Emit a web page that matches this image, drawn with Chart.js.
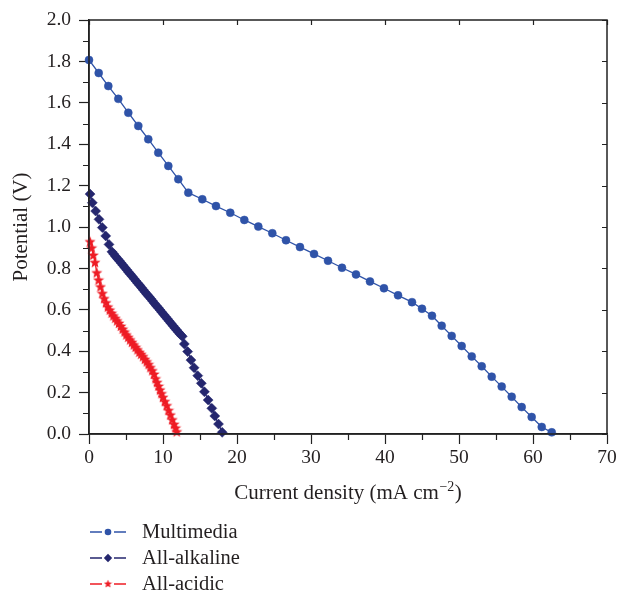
<!DOCTYPE html>
<html>
<head>
<meta charset="utf-8">
<title>Polarization curves</title>
<script src="https://cdn.jsdelivr.net/npm/chart.js"></script>
<style>
  html, body { margin: 0; padding: 0; background: #fff; }
  #wrap { width: 620px; height: 592px; position: relative; }
</style>
</head>
<body>
<div id="wrap"><canvas id="graph"></canvas></div>
<script>
// Multimedia cell
const currentMulti = [0.0, 1.31, 2.61, 3.96, 5.31, 6.66, 8.01, 9.36, 10.72, 12.07, 13.42, 15.31, 17.16, 19.09, 20.99, 22.88, 24.77, 26.62, 28.51, 30.41, 32.3, 34.19, 36.08, 37.97, 39.86, 41.76, 43.65, 45.0, 46.35, 47.66, 49.01, 50.36, 51.72, 53.07, 54.42, 55.77, 57.12, 58.47, 59.82, 61.18, 62.53];
const potentialMulti = [1.807, 1.744, 1.681, 1.619, 1.552, 1.488, 1.424, 1.359, 1.295, 1.231, 1.166, 1.134, 1.101, 1.069, 1.034, 1.002, 0.970, 0.936, 0.903, 0.870, 0.837, 0.803, 0.771, 0.737, 0.704, 0.670, 0.637, 0.605, 0.571, 0.523, 0.474, 0.425, 0.375, 0.327, 0.277, 0.229, 0.180, 0.130, 0.082, 0.034, 0.008];

// All-alkaline cell
const currentAlk = [0.14, 0.45, 0.9, 1.35, 1.8, 2.26, 2.7,
  3.1, 3.35, 3.6, 3.85, 4.1, 4.35, 4.6, 4.85, 5.1, 5.35, 5.6, 5.85, 6.1, 6.35, 6.6, 6.85, 7.1, 7.35, 7.6, 7.85,
  8.1, 8.35, 8.6, 8.85, 9.1, 9.35, 9.6, 9.85, 10.1, 10.35, 10.6, 10.85, 11.1, 11.35, 11.6, 11.85, 12.1, 12.35, 12.6,
  12.88, 13.33, 13.78, 14.2, 14.7, 15.18, 15.6, 16.1, 16.6, 17.0, 17.5, 18.0];
const potentialAlk = [1.159, 1.117, 1.077, 1.037, 0.997, 0.957, 0.916,
  0.880, 0.869, 0.858, 0.847, 0.837, 0.826, 0.815, 0.804, 0.793, 0.782, 0.772, 0.761, 0.750, 0.739, 0.728, 0.718, 0.707, 0.696, 0.685, 0.674,
  0.664, 0.653, 0.642, 0.631, 0.620, 0.610, 0.599, 0.588, 0.577, 0.566, 0.556, 0.545, 0.534, 0.523, 0.512, 0.502, 0.491, 0.481, 0.472,
  0.435, 0.398, 0.357, 0.320, 0.282, 0.245, 0.204, 0.164, 0.124, 0.087, 0.048, 0.008];

// All-acidic cell
const currentAcid = [0.14, 0.36, 0.58, 0.81, 1.05, 1.3, 1.55, 1.8, 2.05, 2.3, 2.55, 2.8, 3.05, 3.3, 3.55, 3.8, 4.05, 4.3, 4.55, 4.8,
  5.05, 5.3, 5.55, 5.8, 6.05, 6.3, 6.55, 6.8, 7.05, 7.3, 7.55, 7.8, 8.05, 8.3, 8.55, 8.8,
  9.0, 9.2, 9.4, 9.6, 9.8, 10.0, 10.25, 10.5, 10.75, 11.0, 11.25, 11.5, 11.7, 11.85];
const potentialAcid = [0.930, 0.900, 0.865, 0.830, 0.780, 0.745, 0.712, 0.680, 0.655, 0.635, 0.615, 0.600, 0.585, 0.572, 0.560, 0.548, 0.536, 0.522, 0.508, 0.494,
  0.480, 0.468, 0.456, 0.444, 0.432, 0.420, 0.408, 0.396, 0.386, 0.375, 0.362, 0.350, 0.337, 0.322, 0.307, 0.290,
  0.268, 0.250, 0.232, 0.214, 0.196, 0.178, 0.158, 0.138, 0.115, 0.093, 0.070, 0.048, 0.030, 0.012];

const seriesNames = ['Multimedia', 'All-alkaline', 'All-acidic'];
const xTicks = [0, 10, 20, 30, 40, 50, 60, 70];
const yTicks = [0.0, 0.2, 0.4, 0.6, 0.8, 1.0, 1.2, 1.4, 1.6, 1.8, 2.0];

const BLUE = '#2f53a8';
const NAVY = '#24266e';
const RED = '#ee1c25';
const INK = '#231f20';
const SERIF = '"Liberation Serif", "DejaVu Serif", serif';

function pairs(xs, ys) {
  return xs.map((x, i) => ({ x: x, y: ys[i] }));
}

// filled five-point star used as marker
function makeStar(size, color) {
  const c = document.createElement('canvas');
  c.width = size; c.height = size;
  const g = c.getContext('2d');
  const cx = size / 2, cy = size / 2 + 0.5;
  const ro = size / 2 - 0.2, ri = ro * 0.45;
  g.beginPath();
  for (let k = 0; k < 10; k++) {
    const r = k % 2 === 0 ? ro : ri;
    const a = -Math.PI / 2 + k * Math.PI / 5;
    const px = cx + r * Math.cos(a), py = cy + r * Math.sin(a);
    if (k === 0) g.moveTo(px, py); else g.lineTo(px, py);
  }
  g.closePath();
  g.fillStyle = color;
  g.fill();
  return c;
}
const starMark = makeStar(12, RED);
const starSmall = makeStar(9, RED);

// frame, minor ticks, x title and legend
const extras = {
  id: 'extras',
  afterDraw(chart) {
    const ctx = chart.ctx;
    const a = chart.chartArea;
    const xs = chart.scales.x, ys = chart.scales.y;
    ctx.save();
    ctx.strokeStyle = '#222';
    ctx.lineWidth = 1.5;
    ctx.strokeRect(a.left, a.top, a.right - a.left, a.bottom - a.top);

    ctx.lineWidth = 1.2;
    ctx.beginPath();
    // minor ticks outside
    for (let v = 5; v < 70; v += 10) {
      const px = Math.round(xs.getPixelForValue(v)) + 0.5;
      ctx.moveTo(px, a.bottom); ctx.lineTo(px, a.bottom + 6);
    }
    for (let v = 0.1; v < 2; v += 0.2) {
      const py = Math.round(ys.getPixelForValue(v)) + 0.5;
      ctx.moveTo(a.left, py); ctx.lineTo(a.left - 6, py);
    }
    // major ticks inside on right and top
    yTicks.forEach(v => {
      const py = Math.round(ys.getPixelForValue(v)) + 0.5;
      ctx.moveTo(a.right, py); ctx.lineTo(a.right - 5, py);
    });
    xTicks.forEach(v => {
      const px = Math.round(xs.getPixelForValue(v)) + 0.5;
      ctx.moveTo(px, a.top); ctx.lineTo(px, a.top + 5);
    });
    ctx.stroke();

    // x axis title with superscript
    ctx.fillStyle = INK;
    ctx.textBaseline = 'alphabetic';
    const main = 'Current density (mA cm';
    const sup = '\u22122';
    ctx.font = '21px ' + SERIF;
    const w1 = ctx.measureText(main).width;
    const w3 = ctx.measureText(')').width;
    ctx.font = '14px ' + SERIF;
    const w2 = ctx.measureText(sup).width;
    let tx = (a.left + a.right) / 2 - (w1 + w2 + w3 + 1) / 2;
    const ty = 499;
    ctx.font = '21px ' + SERIF;
    ctx.fillText(main, tx, ty);
    ctx.font = '14px ' + SERIF;
    ctx.fillText(sup, tx + w1 + 0.5, ty - 8);
    ctx.font = '21px ' + SERIF;
    ctx.fillText(')', tx + w1 + w2 + 1, ty);

    // legend
    chart.data.datasets.forEach((ds, i) => {
      const y = 532 + i * 26;
      ctx.strokeStyle = ds.borderColor;
      ctx.lineWidth = 1.3;
      ctx.beginPath();
      ctx.moveTo(90, y); ctx.lineTo(102, y);
      ctx.moveTo(114, y); ctx.lineTo(126, y);
      ctx.stroke();
      ctx.fillStyle = ds.pointBackgroundColor;
      if (ds.pointStyle === 'circle') {
        ctx.beginPath(); ctx.arc(108, y, 3.3, 0, Math.PI * 2); ctx.fill();
      } else if (ds.pointStyle === 'rectRot') {
        ctx.beginPath();
        ctx.moveTo(108, y - 4.2); ctx.lineTo(112.2, y); ctx.lineTo(108, y + 4.2); ctx.lineTo(103.8, y);
        ctx.closePath(); ctx.fill();
      } else {
        ctx.drawImage(starSmall, 108 - 4.5, y - 5);
      }
      ctx.fillStyle = INK;
      ctx.font = '20.5px ' + SERIF;
      ctx.textBaseline = 'middle';
      ctx.fillText(ds.label, 142, y + 1);
    });
    ctx.restore();
  }
};

new Chart(document.getElementById('graph'), {
  type: 'scatter',
  data: {
    datasets: [
      {
        label: seriesNames[0],
        data: pairs(currentMulti, potentialMulti),
        showLine: true,
        borderColor: BLUE,
        borderWidth: 1.3,
        pointStyle: 'circle',
        pointRadius: 4,
        pointBackgroundColor: BLUE,
        pointBorderColor: BLUE,
        pointBorderWidth: 0.5,
        clip: false
      },
      {
        label: seriesNames[1],
        data: pairs(currentAlk, potentialAlk),
        showLine: true,
        borderColor: NAVY,
        borderWidth: 1.3,
        pointStyle: 'rectRot',
        pointRadius: 5,
        pointBackgroundColor: NAVY,
        pointBorderColor: NAVY,
        pointBorderWidth: 0.5,
        clip: false
      },
      {
        label: seriesNames[2],
        data: pairs(currentAcid, potentialAcid),
        showLine: true,
        borderColor: RED,
        borderWidth: 1.3,
        pointStyle: starMark,
        pointRadius: 5,
        pointBackgroundColor: RED,
        pointBorderColor: RED,
        clip: false
      }
    ]
  },
  options: {
    responsive: true,
    maintainAspectRatio: false,
    animation: false,
    events: [],
    layout: { padding: { top: 20, right: 13, left: 0, bottom: 0 } },
    plugins: {
      legend: { display: false },
      tooltip: { enabled: false }
    },
    scales: {
      x: {
        type: 'linear',
        min: 0, max: 70,
        afterFit(scale) { scale.height = 158; },
        afterBuildTicks(scale) { scale.ticks = xTicks.map(v => ({ value: v })); },
        ticks: { color: INK, font: { family: SERIF, size: 19.5 }, padding: 2, maxRotation: 0 },
        grid: { drawOnChartArea: false, tickLength: 10, tickColor: '#222', tickWidth: 1.2 },
        border: { display: true, color: '#222', width: 1.5 },
        title: { display: false }
      },
      y: {
        type: 'linear',
        min: 0, max: 2,
        afterFit(scale) { scale.width = 89; },
        afterBuildTicks(scale) { scale.ticks = yTicks.map(v => ({ value: v })); },
        ticks: { color: INK, font: { family: SERIF, size: 19.5 }, padding: 8, callback: v => v.toFixed(1) },
        grid: { drawOnChartArea: false, tickLength: 10, tickColor: '#222', tickWidth: 1.2 },
        border: { display: true, color: '#222', width: 1.5 },
        title: {
          display: true,
          text: 'Potential (V)',
          color: INK,
          font: { family: SERIF, size: 21 },
          padding: { top: 9, bottom: 0 }
        }
      }
    }
  },
  plugins: [extras]
});
</script>
</body>
</html>
